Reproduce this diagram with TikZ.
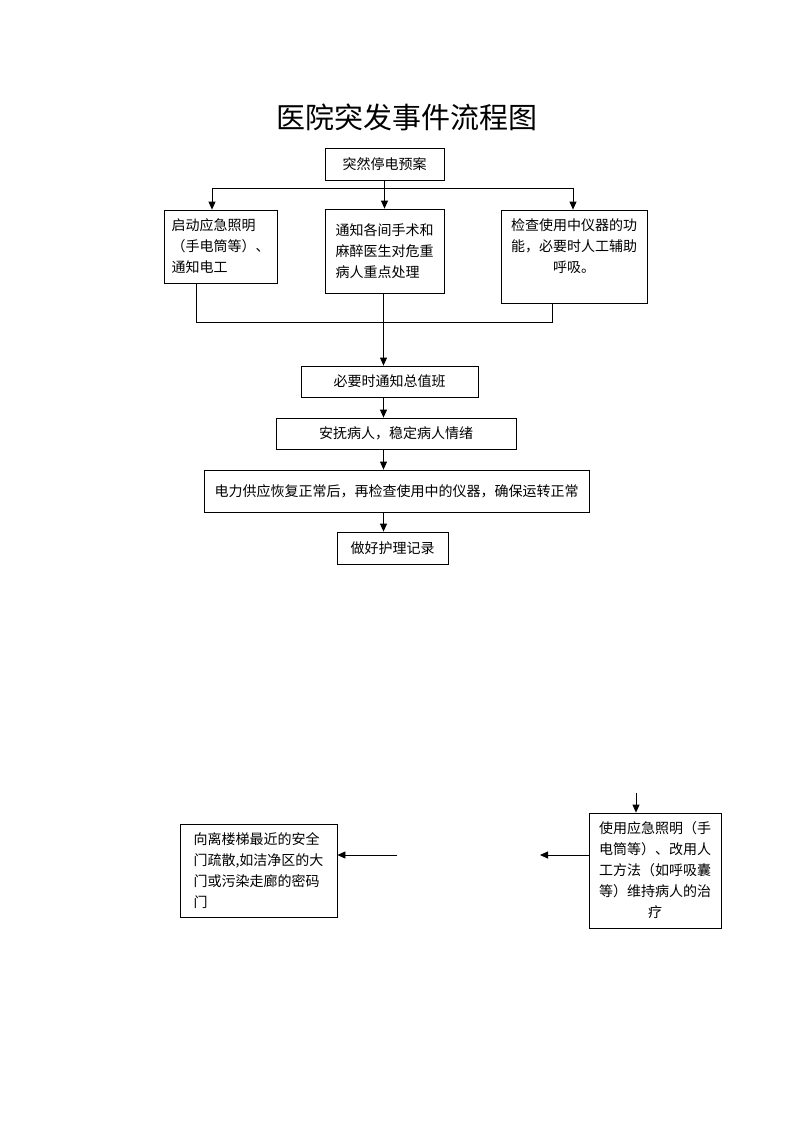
\documentclass[tikz,border=0pt]{standalone}
\usepackage{fontspec}
\setmainfont{Noto Sans CJK SC}
\usepackage{tikz}
\usetikzlibrary{arrows.meta}
\usetikzlibrary{positioning}
\tikzset{boite/.style={draw,line width=0.8pt,inner sep=0pt,font=\fontsize{14}{21}\selectfont},
fleche/.style={line width=0.8pt,-{Triangle[length=8pt,width=7pt]}}}
\begin{document}
\begin{tikzpicture}[x=1pt,y=-1pt]
\useasboundingbox (0,0) rectangle (793,1122);
\node (titre) at (407,117) {\fontsize{29}{29}\selectfont 医院突发事件流程图};
\node [boite,minimum width=119,minimum height=32] (plan) at (384.5,164) {突然停电预案};
\node [boite,minimum width=113,minimum height=73,align=left] (light) at (220.5,246.5) {启动应急照明\\（手电筒等）、\\通知电工};
\node [boite,minimum width=119,minimum height=84,align=left] (notify) at (384.5,251) {通知各间手术和\\麻醉医生对危重\\病人重点处理};
\node [boite,minimum width=146,minimum height=93,align=center] (check) at (574,256.5) {检查使用中仪器的功\\能，必要时人工辅助\\呼吸。\\\mbox{}};
\node [boite,minimum width=177,minimum height=31] (duty) at (389.5,381.5) {必要时通知总值班};
\node [boite,minimum width=240,minimum height=31] (calm) at (396,433.5) {安抚病人，稳定病人情绪};
\node [boite,minimum width=385,minimum height=42] (power) at (396.5,491) {电力供应恢复正常后，再检查使用中的仪器，确保运转正常};
\node [boite,minimum width=111,minimum height=32] (record) at (392.5,548) {做好护理记录};
\node [boite,minimum width=157,minimum height=93,align=left] (evac) at (258.5,870.5) {向离楼梯最近的安全\\门疏散,如洁净区的大\\门或污染走廊的密码\\门};
\node [boite,minimum width=132,minimum height=115,align=center] (manual) at (655,870.5) {使用应急照明（手\\电筒等）、改用人\\工方法（如呼吸囊\\等）维持病人的治\\疗};
\coordinate (busL) at (212,188);
\coordinate (busR) at (573,188);
\coordinate (joinL) at (196,322);
\coordinate (joinR) at (552,322);
\coordinate (axe) at (383.5,0);
\draw [line width=0.8pt] (busL) -- (busR);
\draw [line width=0.8pt] (plan) -- (plan |- busL);
\draw [fleche] (busL) -- (busL |- light.north);
\draw [fleche] (plan |- busL) -- (notify.north);
\draw [fleche] (busR) -- (busR |- check.north);
\draw [line width=0.8pt] (joinL |- light.south) -- (joinL) -- (joinR) -- (joinR |- check.south);
\draw [fleche] (notify.south -| axe) -- (duty.north -| axe);
\draw [fleche] (duty.south -| axe) -- (calm.north -| axe);
\draw [fleche] (calm.south -| axe) -- (power.north -| axe);
\draw [fleche] (power.south -| axe) -- (record.north -| axe);
\coordinate (entree) at (636,793);
\coordinate (gapR) at (540,855);
\coordinate (gapL) at (397,855);
\draw [fleche] (entree) -- (entree |- manual.north);
\draw [fleche] (manual.west |- gapR) -- (gapR);
\draw [fleche] (gapL) -- (gapL -| evac.east);
\end{tikzpicture}
\end{document}
